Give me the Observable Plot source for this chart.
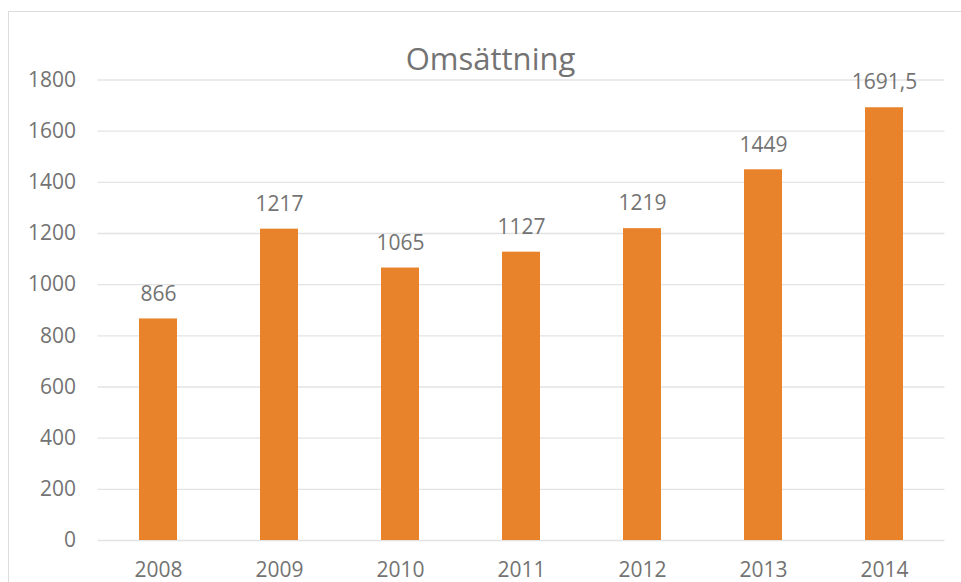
<!DOCTYPE html>
<html>
<head>
<meta charset="utf-8">
<script src="https://cdn.jsdelivr.net/npm/d3@7"></script>
<script src="https://cdn.jsdelivr.net/npm/@observablehq/plot@0.6"></script>
<style>
  html, body { margin: 0; padding: 0; background: #fff; }
  #wrap { position: relative; width: 961px; height: 582px; overflow: hidden; }
  #border { position: absolute; left: 8px; top: 11px; right: -2px; bottom: -2px;
            border-top: 1px solid #dcdcdc; border-left: 1px solid #dcdcdc; }
  #chart { position: absolute; left: 0; top: 0; }
</style>
</head>
<body>
<div id="wrap"><div id="border"></div><div id="chart"></div></div>
<script>
const title = "Omsättning";
const years = ["2008", "2009", "2010", "2011", "2012", "2013", "2014"];
const values = [866, 1217, 1065, 1127, 1219, 1449, 1691.5];
const labels = ["866", "1217", "1065", "1127", "1219", "1449", "1691,5"];
const yTicks = [0, 200, 400, 600, 800, 1000, 1200, 1400, 1600, 1800];

const data = years.map((y, i) => ({year: y, value: values[i], label: labels[i]}));
const textColor = "#737373";
const font = "'Open Sans', sans-serif";

const chart = Plot.plot({
  width: 961,
  height: 582,
  marginLeft: 97.5,
  marginRight: 16.5,
  marginTop: 79.5,
  marginBottom: 42,
  style: {fontFamily: font, background: "transparent", overflow: "visible"},
  x: {domain: years, paddingInner: 0.686, paddingOuter: 0.343, align: 0.5, label: null},
  y: {domain: [0, 1800], label: null},
  marks: [
    Plot.ruleY(yTicks, {stroke: "#e3e3e3", strokeWidth: 1.3}),
    Plot.barY(data, {x: "year", y: "value", fill: "#E8832B"}),
    Plot.text(data, {x: "year", y: "value", text: "label", dy: -25, fill: textColor, fontSize: 21}),
    Plot.axisY(yTicks, {tickSize: 0, tickPadding: 22, fontSize: 21, fill: textColor, tickFormat: d => String(d)}),
    Plot.axisX({tickSize: 0, tickPadding: 22, fontSize: 21, fill: textColor}),
    Plot.text([title], {text: d => d, frameAnchor: "top", dx: -31, dy: -32, fontSize: 31, fill: textColor})
  ]
});
document.getElementById("chart").appendChild(chart);
</script>
</body>
</html>
